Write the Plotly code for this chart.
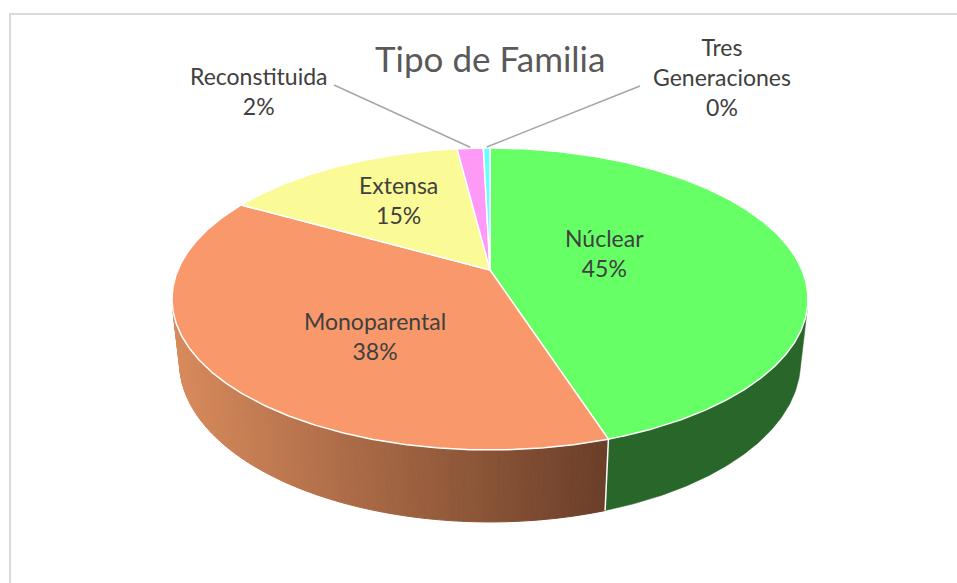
import math
import plotly.graph_objects as go

# ---- data ----
categories = ["Núclear", "Monoparental", "Extensa", "Reconstituida", "Tres Generaciones"]
counts = [112, 95, 37, 4, 1]
label_names = ["Núclear", "Monoparental", "Extensa", "Reconstituida", "Tres<br>Generaciones"]
title_text = "Tipo de Familia"

# ---- styles ----
top_colors = ["#66FF66", "#F9986A", "#FAFA96", "#FF99F8", "#66FFFF"]
wall_left = {0: (40, 102, 42), 1: (216, 138, 92)}
wall_right = {0: (40, 102, 42), 1: (106, 62, 40)}

# ---- projection geometry (pixel space) ----
CX, CY = 490.0, 270.0
S = 0.466
C = math.sqrt(1 - S * S)
D = 4.61
F = 1438.7
H = 0.232


def proj(theta_deg, yw):
    t = math.radians(theta_deg)
    X, Z = math.sin(t), math.cos(t)
    w = D + Z * C - yw * S
    v = yw * C + Z * S
    return CX + F * X / w, CY - F * v / w


total = sum(counts)
angles = [0.0]
for v in counts:
    angles.append(angles[-1] + v / total * 360.0)

cos_sil = -1.0 / (D * C)
sil = math.degrees(math.acos(cos_sil))
vis_lo, vis_hi = sil, 360.0 - sil

fig = go.Figure()

xmin_wall = proj(vis_hi, 0)[0]
xmax_wall = proj(angles[1], 0)[0]
for i in range(len(counts)):
    a1, a2 = max(angles[i], vis_lo), min(angles[i + 1], vis_hi)
    if a2 <= a1:
        continue
    lc, rc = wall_left.get(i), wall_right.get(i)
    uniform = lc is None or lc == rc
    if uniform:
        col = top_colors[i] if lc is None else "rgb(%d,%d,%d)" % lc
        n = max(3, int((a2 - a1) / 0.5))
        top = [proj(a1 + (a2 - a1) * k / n, 0) for k in range(n + 1)]
        bot = [proj(a1 + (a2 - a1) * k / n, -H) for k in range(n + 1)][::-1]
        pts = top + bot + [top[0]]
        fig.add_trace(go.Scatter(x=[p[0] for p in pts], y=[p[1] for p in pts],
                                 mode="lines", fill="toself", fillcolor=col,
                                 line=dict(color=col, width=0.5), hoverinfo="skip",
                                 showlegend=False))
        continue
    n = max(2, int((a2 - a1) / 1.0))
    for k in range(n):
        ta = a1 + (a2 - a1) * k / n
        tb = a1 + (a2 - a1) * (k + 1) / n
        pts = [proj(ta, 0), proj(tb, 0), proj(tb, -H), proj(ta, -H)]
        xm = (pts[0][0] + pts[1][0]) / 2
        f = min(max((xm - xmin_wall) / (xmax_wall - xmin_wall), 0), 1)
        col = "rgb(%d,%d,%d)" % tuple(round(lc[j] + (rc[j] - lc[j]) * f) for j in range(3))
        fig.add_trace(go.Scatter(
            x=[p[0] for p in pts] + [pts[0][0]], y=[p[1] for p in pts] + [pts[0][1]],
            mode="lines", fill="toself", fillcolor=col,
            line=dict(color=col, width=1), hoverinfo="skip", showlegend=False))

for a in angles[1:-1]:
    if vis_lo < a < vis_hi:
        p0, p1 = proj(a, 0), proj(a, -H)
        fig.add_trace(go.Scatter(x=[p0[0], p1[0]], y=[p0[1], p1[1]], mode="lines",
                                 line=dict(color="white", width=1.5),
                                 hoverinfo="skip", showlegend=False))

for i in range(len(counts)):
    a1, a2 = angles[i], angles[i + 1]
    n = max(3, int((a2 - a1) / 0.5))
    xs, ys = [CX], [CY]
    for k in range(n + 1):
        px, py = proj(a1 + (a2 - a1) * k / n, 0)
        xs.append(px)
        ys.append(py)
    xs.append(CX)
    ys.append(CY)
    fig.add_trace(go.Scatter(x=xs, y=ys, mode="lines", fill="toself",
                             fillcolor=top_colors[i], line=dict(color="white", width=1.5),
                             hoverinfo="skip", showlegend=False, name=categories[i]))

pct = [round(v / total * 100) for v in counts]
label_pos = [(604, 253), (375, 336), (398, 200), (258, 91), (722, 77)]
leader_start = {3: (334, 85), 4: (640, 86)}
font = dict(family="Lato, Open Sans, sans-serif", size=23, color="#404040")
for i in range(len(counts)):
    fig.add_annotation(x=label_pos[i][0], y=label_pos[i][1], xref="x", yref="y",
                       text="%s<br>%d%%" % (label_names[i], pct[i]), showarrow=False,
                       font=font, xanchor="center", yanchor="middle", align="center")
    if i in leader_start:
        mid = (angles[i] + angles[i + 1]) / 2
        ex, ey = proj(mid, 0)
        sx, sy = leader_start[i]
        fig.add_trace(go.Scatter(x=[sx, ex], y=[sy, ey - 1], mode="lines",
                                 line=dict(color="#A6A6A6", width=1.5),
                                 hoverinfo="skip", showlegend=False))

fig.add_annotation(x=490, y=58, xref="x", yref="y", text=title_text, showarrow=False,
                   font=dict(family="Lato, Open Sans, sans-serif", size=35, color="#595959"),
                   xanchor="center", yanchor="middle")

fig.add_shape(type="rect", xref="paper", yref="paper",
              x0=10 / 957, x1=1.05, y0=-0.1, y1=1 - 14 / 583,
              line=dict(color="#D9D9D9", width=2), fillcolor="rgba(0,0,0,0)")

fig.update_layout(
    width=957, height=583, margin=dict(l=0, r=0, t=0, b=0),
    paper_bgcolor="white", plot_bgcolor="white",
    xaxis=dict(range=[0, 957], visible=False, fixedrange=True),
    yaxis=dict(range=[583, 0], visible=False, fixedrange=True),
    showlegend=False,
)

fig.write_html("out.html", config={"displayModeBar": False},
               post_script="document.body.style.margin='0';document.body.style.overflow='hidden';")
